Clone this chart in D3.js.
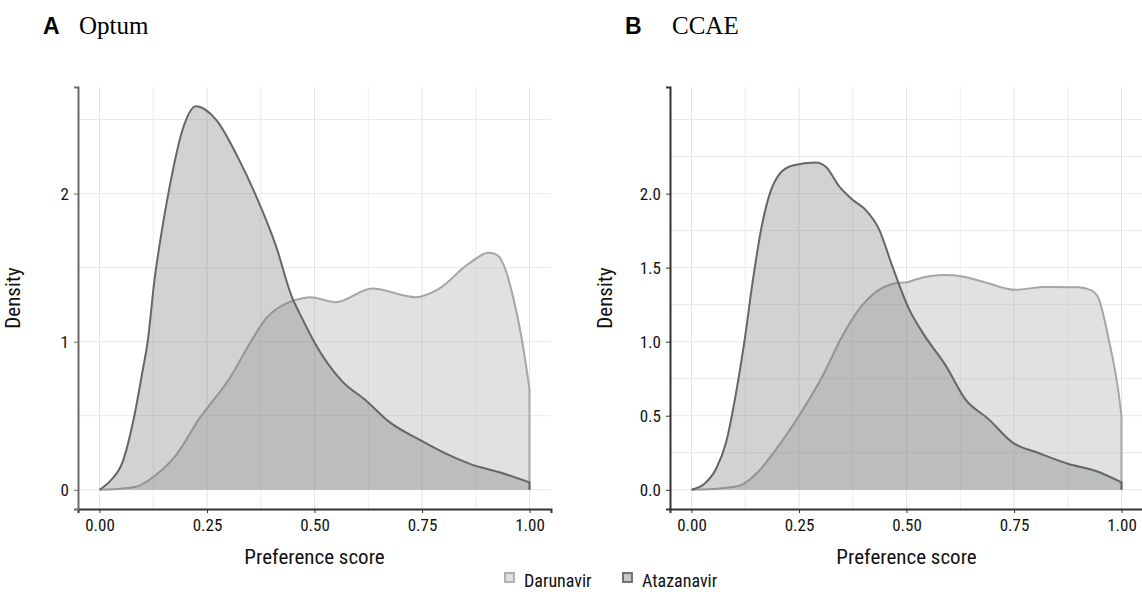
<!DOCTYPE html>
<html><head><meta charset="utf-8">
<script src="https://cdn.jsdelivr.net/npm/d3@7"></script>
<style>
body{margin:0;background:#fff;}
svg text{font-family:"Liberation Sans Narrow","Roboto Condensed","DejaVu Sans Condensed",sans-serif;font-stretch:condensed;}
</style></head><body>
<svg id="c" width="1142" height="592"></svg>
<script>
// ---- data ----
const seriesNames = ["Darunavir", "Atazanavir"];
const xTicks = [0, 0.25, 0.5, 0.75, 1];
const xTickLabels = ["0.00", "0.25", "0.50", "0.75", "1.00"];
const yTicksA = [0, 1, 2];
const yTickLabelsA = ["0", "1", "2"];
const yTicksB = [0, 0.5, 1, 1.5, 2];
const yTickLabelsB = ["0.0", "0.5", "1.0", "1.5", "2.0"];

const optumAtaX = [0,0.025,0.054,0.081,0.10,0.112,0.128,0.145,0.162,0.193,0.224,0.271,0.321,0.364,0.41,0.449,0.464,0.499,0.565,0.619,0.673,0.746,0.812,0.866,0.928,1.0];
const optumAtaY = [0,0.06,0.19,0.50,0.80,1.0,1.42,1.75,2.03,2.43,2.59,2.50,2.25,1.985,1.65,1.29,1.20,1.0,0.73,0.605,0.46,0.335,0.235,0.17,0.12,0.05];
const optumDarX = [0,0.04,0.085,0.131,0.178,0.232,0.302,0.356,0.387,0.441,0.472,0.491,0.549,0.634,0.735,0.789,0.858,0.905,0.925,0.945,0.962,0.982,1.0];
const optumDarY = [0,0.005,0.02,0.10,0.234,0.48,0.75,1.02,1.155,1.267,1.294,1.30,1.267,1.36,1.30,1.357,1.525,1.60,1.585,1.48,1.30,1.02,0.68];

const ccaeAtaX = [0,0.03,0.057,0.0805,0.104,0.123,0.142,0.162,0.181,0.204,0.235,0.289,0.313,0.343,0.374,0.405,0.436,0.467,0.506,0.537,0.591,0.637,0.691,0.746,0.807,0.877,0.939,1.0];
const ccaeAtaY = [0,0.04,0.14,0.32,0.66,1.0,1.40,1.76,1.99,2.13,2.19,2.21,2.18,2.05,1.96,1.89,1.76,1.51,1.22,1.063,0.84,0.61,0.477,0.32,0.248,0.174,0.128,0.05];
const ccaeDarX = [0,0.05,0.111,0.15,0.197,0.25,0.305,0.351,0.39,0.428,0.467,0.506,0.521,0.591,0.63,0.684,0.753,0.823,0.90,0.931,0.947,0.97,0.993,1.0];
const ccaeDarY = [0,0.005,0.027,0.106,0.275,0.50,0.77,1.04,1.22,1.334,1.39,1.405,1.42,1.45,1.44,1.40,1.35,1.37,1.367,1.345,1.29,1.02,0.66,0.5];

// ---- drawing ----
const svg = d3.select("#c");
const zip = (xs, ys) => xs.map((x, i) => ({x, y: ys[i]}));

function panel(opt) {
  const x = d3.scaleLinear().domain([-0.05, 1.05]).range([opt.left, opt.left + 473]);
  const y = d3.scaleLinear().domain([-0.13, 2.72]).range([509, 87]);
  const g = svg.append("g");
  // grid
  const vgrid = d3.range(0, 1.0001, 0.125);
  g.selectAll(".vg").data(vgrid).join("line")
    .attr("x1", d => x(d)).attr("x2", d => x(d)).attr("y1", y(2.72)).attr("y2", y(-0.13))
    .attr("stroke", (d, i) => i % 2 === 0 ? "#e4e4e4" : "#ededed").attr("stroke-width", 1);
  g.selectAll(".hg").data(opt.hgrid).join("line")
    .attr("x1", x(-0.05)).attr("x2", x(1.05)).attr("y1", d => y(d)).attr("y2", d => y(d))
    .attr("stroke", "#e9e9e9").attr("stroke-width", 1);
  const area = d3.area().x(d => x(d.x)).y0(y(0)).y1(d => y(d.y)).curve(d3.curveMonotoneX);
  const line = d3.line().x(d => x(d.x)).y(d => y(d.y)).curve(d3.curveMonotoneX);
  const dar = zip(opt.darX, opt.darY), ata = zip(opt.ataX, opt.ataY);
  g.append("path").attr("d", area(dar)).attr("fill", "rgba(170,170,170,0.35)");
  g.append("path").attr("d", line(dar) + "L" + x(1) + "," + y(0)).attr("fill", "none").attr("stroke", "#a6a6a6").attr("stroke-width", 2);
  g.append("path").attr("d", area(ata)).attr("fill", "rgba(102,106,106,0.3)");
  g.append("path").attr("d", line(ata) + "L" + x(1) + "," + y(0)).attr("fill", "none").attr("stroke", "#666", ).attr("stroke-width", 2);
  // axes
  const xa = g.append("g").attr("transform", `translate(0,${y(-0.13)})`)
    .call(d3.axisBottom(x).tickValues(xTicks).tickFormat((d, i) => xTickLabels[i]).tickSizeOuter(0).tickSize(4).tickPadding(6));
  xa.select(".domain").attr("stroke", opt.xAxisColor).attr("stroke-width", 2);
  xa.selectAll(".tick line").attr("stroke", opt.xAxisColor);
  xa.selectAll("text").attr("font-size", 17).attr("fill", "#111");
  const ya = g.append("g").attr("transform", `translate(${x(-0.05)},0)`)
    .call(d3.axisLeft(y).tickValues(opt.yTicks).tickFormat((d, i) => opt.yLabels[i]).tickSizeOuter(0).tickSize(4).tickPadding(5));
  ya.select(".domain").attr("stroke", opt.yAxisColor).attr("stroke-width", 2);
  ya.selectAll(".tick line").attr("stroke", opt.yAxisColor);
  ya.selectAll("text").attr("font-size", 17).attr("fill", "#111");
  // labels
  g.append("text").attr("x", (x(-0.05) + x(1.05)) / 2).attr("y", 564).attr("text-anchor", "middle")
    .attr("font-size", 21).attr("fill", "#111").text("Preference score");
  g.append("text").attr("transform", `translate(${opt.left - 58},298) rotate(-90)`).attr("text-anchor", "middle")
    .attr("font-size", 21).attr("fill", "#111").text("Density");
  // title
  g.append("text").attr("x", opt.letterX).attr("y", 34).attr("font-size", 23).attr("font-weight", "bold")
    .style("font-family", "'Liberation Sans',Arial,sans-serif").style("font-stretch", "normal").text(opt.letter);
  g.append("text").attr("x", opt.titleX).attr("y", 34).attr("font-size", 25)
    .style("font-family", "'Liberation Serif','Times New Roman',serif").style("font-stretch", "normal").text(opt.title);
}

panel({left: 78, letter: "A", letterX: 43, title: "Optum", titleX: 79,
  ataX: optumAtaX, ataY: optumAtaY, darX: optumDarX, darY: optumDarY,
  yTicks: yTicksA, yLabels: yTickLabelsA, hgrid: [0, 0.5, 1, 1.5, 2, 2.5],
  xAxisColor: "#333", yAxisColor: "#6a6a6a"});
panel({left: 670, letter: "B", letterX: 625, title: "CCAE", titleX: 672,
  ataX: ccaeAtaX, ataY: ccaeAtaY, darX: ccaeDarX, darY: ccaeDarY,
  yTicks: yTicksB, yLabels: yTickLabelsB, hgrid: d3.range(0, 2.51, 0.25),
  xAxisColor: "#333", yAxisColor: "#333"});

// legend
const legend = svg.append("g");
const legItems = [
  {name: seriesNames[0], x: 504, fill: "#e0e0e0", stroke: "#ababab"},
  {name: seriesNames[1], x: 622, fill: "#c6c6c6", stroke: "#666"}
];
legItems.forEach(it => {
  legend.append("rect").attr("x", it.x + 1).attr("y", 573).attr("width", 9).attr("height", 9)
    .attr("fill", it.fill).attr("stroke", it.stroke).attr("stroke-width", 1.8);
  legend.append("text").attr("x", it.x + 20).attr("y", 587).attr("font-size", 18).attr("fill", "#111").text(it.name);
});
</script></body></html>
